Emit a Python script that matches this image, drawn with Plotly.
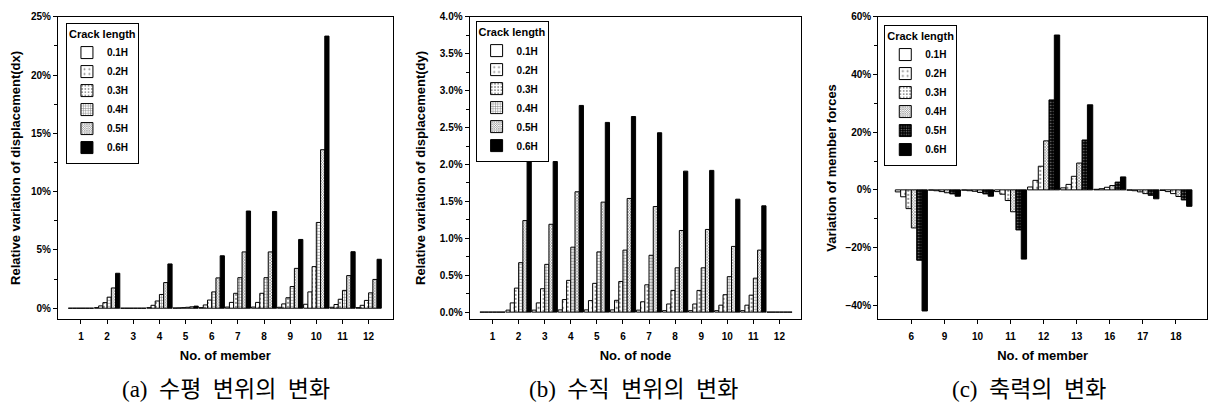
import plotly.graph_objects as go

# ---------------- data ----------------
series = ["0.1H", "0.2H", "0.3H", "0.4H", "0.5H", "0.6H"]

# (a) horizontal displacement, % by member
members_a = ["1", "2", "3", "4", "5", "6", "7", "8", "9", "10", "11", "12"]
dx_01H = [0, 0.05, 0, 0.05, 0.02, 0.05, 0.10, 0.10, 0.08, 0.34, 0.08, 0.05]
dx_02H = [0, 0.20, 0, 0.25, 0.03, 0.28, 0.50, 0.50, 0.37, 1.40, 0.32, 0.25]
dx_03H = [0, 0.48, 0, 0.62, 0.05, 0.70, 1.28, 1.28, 0.90, 3.57, 0.77, 0.67]
dx_04H = [0, 0.95, 0, 1.18, 0.08, 1.40, 2.62, 2.62, 1.86, 7.36, 1.53, 1.32]
dx_05H = [0, 1.74, 0, 2.20, 0.12, 2.60, 4.83, 4.83, 3.42, 13.60, 2.80, 2.47]
dx_06H = [0, 3.00, 0, 3.80, 0.18, 4.50, 8.34, 8.30, 5.90, 23.35, 4.85, 4.20]

# (b) vertical displacement, % by node
nodes_b = ["1", "2", "3", "4", "5", "6", "7", "8", "9", "10", "11", "12"]
dy_01H = [0, 0.027, 0.027, 0.03, 0.03, 0.03, 0.027, 0.02, 0.02, 0.02, 0.02, 0]
dy_02H = [0, 0.125, 0.125, 0.17, 0.156, 0.16, 0.14, 0.11, 0.11, 0.094, 0.094, 0]
dy_03H = [0, 0.325, 0.317, 0.43, 0.39, 0.415, 0.37, 0.294, 0.294, 0.236, 0.23, 0]
dy_04H = [0, 0.67, 0.647, 0.88, 0.816, 0.84, 0.77, 0.60, 0.60, 0.48, 0.46, 0]
dy_05H = [0, 1.24, 1.19, 1.63, 1.49, 1.54, 1.43, 1.106, 1.12, 0.89, 0.84, 0]
dy_06H = [0, 2.13, 2.04, 2.80, 2.57, 2.65, 2.43, 1.91, 1.92, 1.53, 1.44, 0]

# (c) member forces, % by member
members_c = ["6", "9", "10", "11", "12", "13", "16", "17", "18"]
f_01H = [-0.7, -0.1, -0.1, -0.6, 1.0, 0.7, 0.2, -0.1, -0.2]
f_02H = [-2.4, -0.3, -0.3, -1.5, 3.3, 1.9, 0.4, -0.3, -0.6]
f_03H = [-6.5, -0.6, -0.5, -3.7, 8.2, 4.7, 0.9, -0.7, -1.3]
f_04H = [-13.2, -1.0, -0.9, -7.6, 17.0, 9.3, 1.5, -1.3, -2.3]
f_05H = [-24.4, -1.4, -1.4, -13.9, 31.2, 17.3, 2.7, -1.9, -3.5]
f_06H = [-42.0, -2.2, -2.2, -24.0, 53.7, 29.5, 4.5, -3.1, -5.7]

SP = "\u00a0 "
captions = ["(a)" + SP + "수평" + SP + "변위의" + SP + "변화",
            "(b)" + SP + "수직" + SP + "변위의" + SP + "변화",
            "(c)" + SP + "축력의" + SP + "변화"]

# ---------------- styling ----------------
FONT = "Liberation Sans Narrow, Arial Narrow, Liberation Sans, Arial, sans-serif"
WIDE = "Liberation Sans, Arial, sans-serif"

styles_ab = [
    dict(color="white"),
    dict(color="white", pattern=dict(shape=".", size=6, solidity=0.12, fgcolor="black", bgcolor="white")),
    dict(color="white", pattern=dict(shape=".", size=4, solidity=0.22, fgcolor="black", bgcolor="white")),
    dict(color="white", pattern=dict(shape="+", size=3, solidity=0.35, fgcolor="black", bgcolor="white")),
    dict(color="white", pattern=dict(shape="x", size=2, solidity=0.5, fgcolor="black", bgcolor="white")),
    dict(color="black"),
]
styles_c = [
    dict(color="white"),
    dict(color="white", pattern=dict(shape=".", size=6, solidity=0.12, fgcolor="black", bgcolor="white")),
    dict(color="white", pattern=dict(shape=".", size=4, solidity=0.22, fgcolor="black", bgcolor="white")),
    dict(color="white", pattern=dict(shape="x", size=2, solidity=0.5, fgcolor="black", bgcolor="white")),
    dict(color="black", pattern=dict(shape=".", size=3, solidity=0.25, fgcolor="white", bgcolor="black")),
    dict(color="black"),
]

fig = go.Figure()

panels = [
    ("x", "y", "legend", members_a, [dx_01H, dx_02H, dx_03H, dx_04H, dx_05H, dx_06H], styles_ab),
    ("x2", "y2", "legend2", nodes_b, [dy_01H, dy_02H, dy_03H, dy_04H, dy_05H, dy_06H], styles_ab),
    ("x3", "y3", "legend3", members_c, [f_01H, f_02H, f_03H, f_04H, f_05H, f_06H], styles_c),
]

for xa, ya, lg, cats, vals, sty in panels:
    for name, v, st in zip(series, vals, sty):
        marker = dict(line=dict(color="black", width=1))
        marker.update(st)
        fig.add_trace(go.Bar(x=cats, y=v, name=name, xaxis=xa, yaxis=ya,
                             legend=lg, marker=marker))

H = 403.0
W = 1208.0
ybot = 1 - 318 / H
ytop = 1 - 12 / H

tickfont = dict(family=FONT, size=10, color="black", weight="bold")
titlefont = dict(family=FONT, size=13, color="black", weight="bold")
ytitlefont = dict(family=WIDE, size=13, color="black", weight="bold")

def xaxis(dom, rng, title):
    return dict(domain=dom, type="category", range=rng, showline=True, linecolor="black",
                linewidth=1, mirror=True, ticks="outside", ticklen=4, tickcolor="black",
                tickfont=tickfont, showgrid=False, zeroline=False, ticklabelstandoff=4,
                title=dict(text=title, font=titlefont, standoff=9))

def yaxis(rng, dtick, minor_dtick, fmt, title, standoff):
    return dict(domain=[ybot, ytop], range=rng, dtick=dtick, tick0=0, showline=True,
                linecolor="black", linewidth=1, mirror=True, ticks="outside", ticklen=4,
                tickcolor="black", tickfont=tickfont, ticksuffix="%", tickformat=fmt,
                showgrid=False, zeroline=False,
                minor=dict(dtick=minor_dtick, tick0=0, ticks="outside", ticklen=3,
                           tickcolor="black", showgrid=False),
                title=dict(text=title, font=ytitlefont, standoff=standoff))

def legend(x, y):
    return dict(x=x, y=y, xanchor="left", yanchor="top", bgcolor="white",
                bordercolor="black", borderwidth=1,
                font=dict(family=FONT, size=10, color="black", weight="bold"),
                title=dict(text="Crack length",
                           font=dict(family=FONT, size=11, color="black", weight="bold")),
                tracegroupgap=0, itemwidth=30)

fig.update_layout(
    width=1208, height=403,
    margin=dict(l=0, r=0, t=0, b=0),
    paper_bgcolor="white", plot_bgcolor="white",
    barmode="group", bargap=0.03, bargroupgap=0,
    xaxis=dict(xaxis([58 / W, 393 / W], [-0.88, 11.92], "No. of member"), anchor="y"),
    yaxis=dict(yaxis([-0.93, 25], 5, 2.5, ".0f", "Relative variation of displacement(dx)", 7), anchor="x"),
    xaxis2=dict(xaxis([470 / W, 802 / W], [-0.88, 11.84], "No. of node"), anchor="y2"),
    yaxis2=dict(yaxis([-0.094, 4.0], 0.5, 0.25, ".1f", "Relative variation of displacement(dy)", 11), anchor="x2"),
    xaxis3=dict(xaxis([879 / W, 1.0], [-1, 8.94], "No. of member"), anchor="y3"),
    yaxis3=dict(yaxis([-44.8, 60], 20, 10, ".0f", "Variation of member forces", 5), anchor="x3"),
    legend=legend(66 / W, 1 - 18 / H),
    legend2=legend(476 / W, 1 - 16 / H),
    legend3=legend(885 / W, 1 - 20 / H),
    showlegend=True,
)

cap_x = [226 / W, 634 / W, 1030 / W]
for cx, txt in zip(cap_x, captions):
    fig.add_annotation(x=cx, y=1 - 389 / H, xref="paper", yref="paper", text=txt,
                       showarrow=False, xanchor="center", yanchor="middle",
                       font=dict(family="Liberation Serif, Noto Sans CJK KR, serif", size=23, color="black"))

fig.write_html("out.html", config={"displayModeBar": False},
               post_script="document.body.style.margin='0px';document.body.style.overflow='hidden';")
